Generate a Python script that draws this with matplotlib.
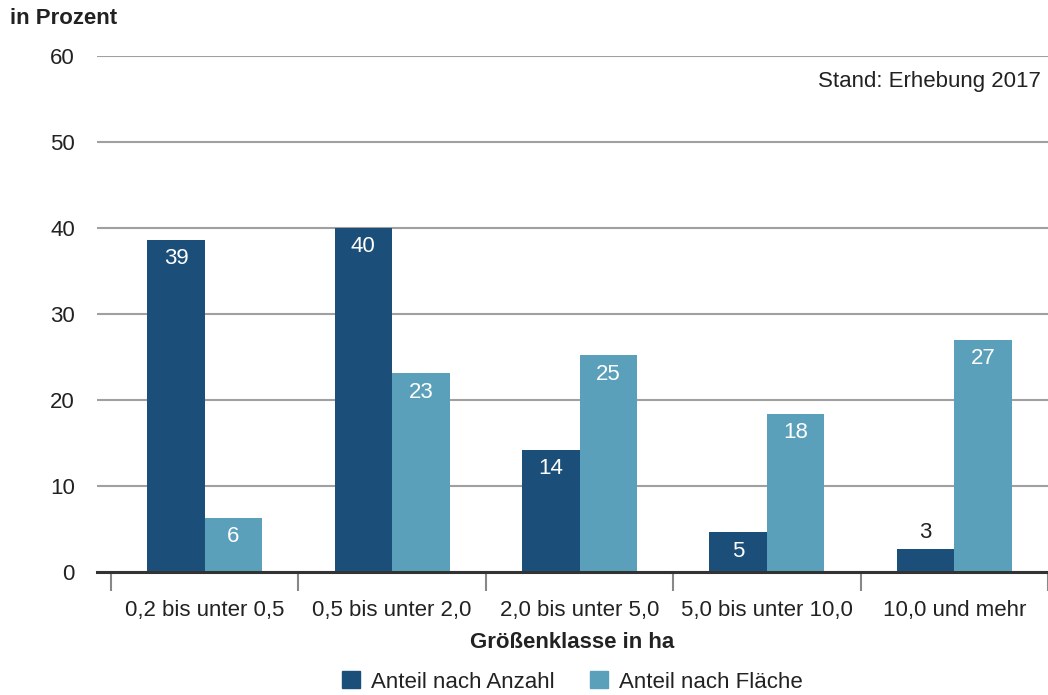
import numpy as np
import matplotlib
matplotlib.use('Agg')
import matplotlib.pyplot as plt
from matplotlib.patches import Patch

plt.rcParams['font.family'] = ['Liberation Sans', 'DejaVu Sans']

# Anteile der Betriebe je Größenklasse (Erhebung 2017)
categories = ['0,2 bis unter 0,5', '0,5 bis unter 2,0', '2,0 bis unter 5,0',
              '5,0 bis unter 10,0', '10,0 und mehr']
share_count = [38.6, 40.0, 14.2, 4.6, 2.7]
share_area = [6.3, 23.1, 25.2, 18.4, 27.0]
series_names = ['Anteil nach Anzahl', 'Anteil nach Fläche']
yticks = [0, 10, 20, 30, 40, 50, 60]

DARK = '#1b4f7a'
LIGHT = '#5ba0ba'
GRID = '#a0a0a0'
TEXT = '#222222'
FS = 16

fig = plt.figure(figsize=(10.48, 6.95), dpi=100)
ax = fig.add_axes([97 / 1048, 1 - 572 / 695, 1 - 97 / 1048, (572 - 56) / 695])

x = np.arange(len(categories))
w = 0.307
bars_a = ax.bar(x - w / 2, share_count, w, color=DARK, zorder=3)
bars_b = ax.bar(x + w / 2, share_area, w, color=LIGHT, zorder=3)

ax.set_xlim(-0.575, 4.5)
ax.set_ylim(0, 60)
ax.set_yticks(yticks)
ax.set_yticklabels([str(v) for v in yticks], fontsize=FS, color=TEXT)
ax.tick_params(axis='y', length=0, pad=16)
ax.grid(axis='y', color=GRID, linewidth=1.5, zorder=0)

# category separators as ticks, labels centred between them
ax.set_xticks(np.arange(len(categories) + 1) - 0.5)
ax.set_xticklabels([])
ax.set_xticks(x, minor=True)
ax.set_xticklabels(categories, minor=True, fontsize=FS, color=TEXT)
ax.tick_params(axis='x', which='major', length=14, width=1.5, color='#888888')
ax.tick_params(axis='x', which='minor', length=0, pad=20)

for side in ['top', 'right', 'left']:
    ax.spines[side].set_visible(False)
ax.spines['bottom'].set_color('#333333')
ax.spines['bottom'].set_linewidth(2.2)
ax.spines['bottom'].set_zorder(4)


def label_bars(bars, values):
    for b, v in zip(bars, values):
        cx = b.get_x() + b.get_width() / 2
        if v >= 4:
            ax.annotate(f'{v:.0f}', (cx, v), xytext=(0, -6), textcoords='offset points',
                        ha='center', va='top', color='white', fontsize=FS, zorder=5)
        else:
            ax.annotate(f'{v:.0f}', (cx, v), xytext=(0, 4), textcoords='offset points',
                        ha='center', va='bottom', color=TEXT, fontsize=FS, zorder=5)


label_bars(bars_a, share_count)
label_bars(bars_b, share_area)

ax.set_xlabel('Größenklasse in ha', fontsize=FS, fontweight='bold', color=TEXT, labelpad=8)

fig.text(10 / 1048, 1 - 18 / 695, 'in Prozent', fontsize=FS, fontweight='bold',
         color=TEXT, ha='left', va='center')
ax.text(0.992, 0.95, 'Stand: Erhebung 2017', transform=ax.transAxes, fontsize=FS,
        color=TEXT, ha='right', va='center')

handles = [Patch(color=DARK), Patch(color=LIGHT)]
fig.legend(handles, series_names, loc='center', bbox_to_anchor=(572.5 / 1048, 1 - 682 / 695),
           ncol=2, frameon=False, fontsize=FS, handlelength=0.8, handleheight=0.8,
           handletextpad=0.5, columnspacing=1.6, labelcolor=TEXT)

fig.savefig('out.png', dpi=100)
